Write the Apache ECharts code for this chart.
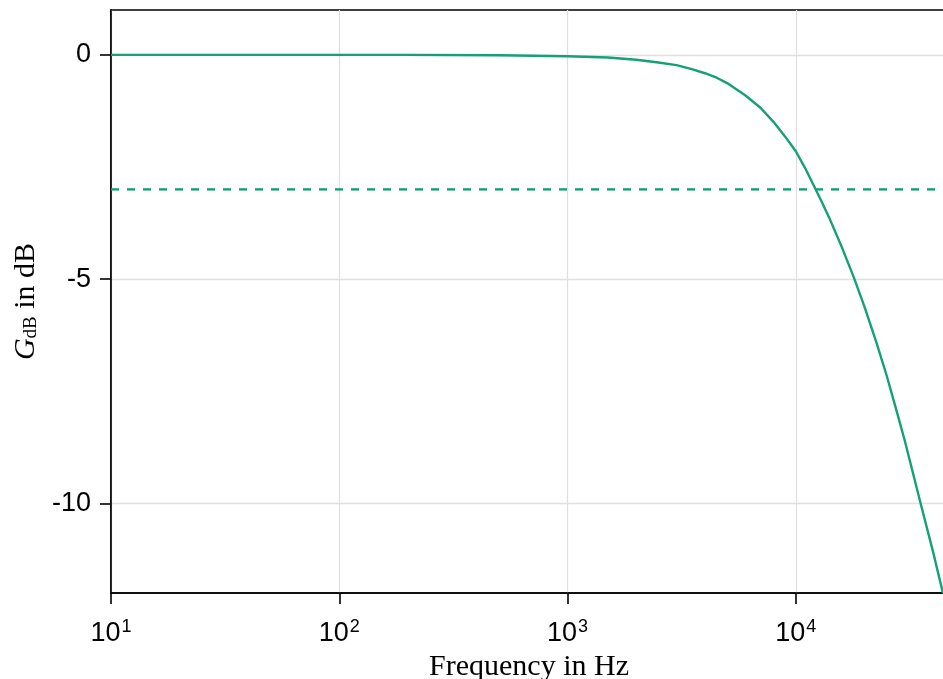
<!DOCTYPE html>
<html>
<head>
<meta charset="utf-8">
<script src="https://cdn.jsdelivr.net/npm/echarts@6/dist/echarts.min.js"></script>
<style>
  html, body { margin: 0; padding: 0; background: #ffffff; overflow: hidden; }
  #chart { width: 943px; height: 679px; }
</style>
</head>
<body>
<div id="chart"></div>
<script>
// Frequencies (Hz) and gain (dB)
var frequencies = [10, 20, 50, 100, 200, 500, 1000, 1500, 2000, 2500, 3000, 3500, 4000, 4500, 5000, 6000, 7000, 8000, 9000, 10000, 11000, 12000, 13000, 14000, 16000, 18000, 20000, 22500, 25000, 27500, 30000, 35000, 40000, 44100];
var gainDb = [0, 0, 0, 0, 0, -0.01, -0.03, -0.06, -0.11, -0.17, -0.23, -0.32, -0.41, -0.51, -0.63, -0.9, -1.18, -1.5, -1.83, -2.15, -2.53, -2.92, -3.28, -3.63, -4.32, -4.98, -5.62, -6.4, -7.15, -7.9, -8.6, -9.95, -11.1, -12];
var cutoffLevel = -3;
var cutoffFreqs = [10, 45950];
var xTickValues = [10, 100, 1000, 10000];
var yTickValues = [-10, -5, 0];
var xRange = [10, 45950];
var yRange = [-12, 1];

var lineColor = '#16a078';
var curve = frequencies.map(function (f, i) { return [f, gainDb[i]]; });
var cutoff = cutoffFreqs.map(function (f) { return [f, cutoffLevel]; });

var chart = echarts.init(document.getElementById('chart'), null, { renderer: 'canvas' });
chart.setOption({
  backgroundColor: '#ffffff',
  animation: false,
  grid: {
    left: 111, top: 10, width: 836, height: 583,
    outerBoundsMode: 'none', containLabel: false,
    show: true, borderColor: '#000000', borderWidth: 1.6, backgroundColor: 'transparent'
  },
  xAxis: {
    type: 'log', logBase: 10, min: xRange[0], max: xRange[1],
    axisLine: { show: true, onZero: false, lineStyle: { color: '#000', width: 1.6 } },
    axisTick: { show: true, inside: false, length: 11, customValues: xTickValues, lineStyle: { color: '#000', width: 1.6 } },
    minorTick: { show: false },
    splitLine: { show: true, lineStyle: { color: '#e0e0e0', width: 1.3 } },
    axisLabel: {
      customValues: xTickValues,
      margin: 24,
      color: '#000',
      fontFamily: 'Liberation Sans',
      fontSize: 27,
      formatter: function (v) {
        var e = Math.round(Math.log10(v));
        return '{b|10}{s|' + e + '}';
      },
      rich: {
        b: { fontFamily: 'Liberation Sans', fontSize: 27, color: '#000', lineHeight: 30, verticalAlign: 'bottom' },
        s: { fontFamily: 'Liberation Sans', fontSize: 18, color: '#000', lineHeight: 30, verticalAlign: 'top', padding: [1, 0, 0, 1] }
      }
    },
    name: 'Frequency in Hz',
    nameLocation: 'middle',
    nameGap: 58,
    nameTextStyle: { fontFamily: 'Liberation Serif', fontSize: 30, color: '#000' }
  },
  yAxis: {
    type: 'value', min: yRange[0], max: yRange[1],
    axisLine: { show: true, onZero: false, lineStyle: { color: '#000', width: 1.6 } },
    axisTick: { show: true, inside: false, length: 11, customValues: yTickValues, lineStyle: { color: '#000', width: 1.6 } },
    splitLine: { show: true, lineStyle: { color: '#e0e0e0', width: 1.3 } },
    axisLabel: {
      customValues: yTickValues,
      margin: 20,
      color: '#000',
      fontFamily: 'Liberation Sans',
      fontSize: 27
    },
    name: '{i|G}{sub|dB}{t| in dB}',
    nameLocation: 'middle',
    nameRotate: 90,
    nameGap: 70,
    nameTextStyle: {
      color: '#000',
      rich: {
        i: { fontFamily: 'Liberation Serif', fontStyle: 'italic', fontSize: 30, color: '#000', verticalAlign: 'bottom', lineHeight: 32 },
        sub: { fontFamily: 'Liberation Serif', fontSize: 19, color: '#000', verticalAlign: 'bottom', lineHeight: 27 },
        t: { fontFamily: 'Liberation Serif', fontSize: 30, color: '#000', verticalAlign: 'bottom', lineHeight: 32 }
      }
    }
  },
  series: [
    {
      type: 'line', data: curve, showSymbol: false, smooth: false,
      lineStyle: { color: lineColor, width: 2.4 }, clip: true, z: 3
    },
    {
      type: 'line', data: cutoff, showSymbol: false,
      lineStyle: { color: lineColor, width: 2.4, type: [8, 8] }, z: 2
    }
  ]
});
</script>
</body>
</html>
